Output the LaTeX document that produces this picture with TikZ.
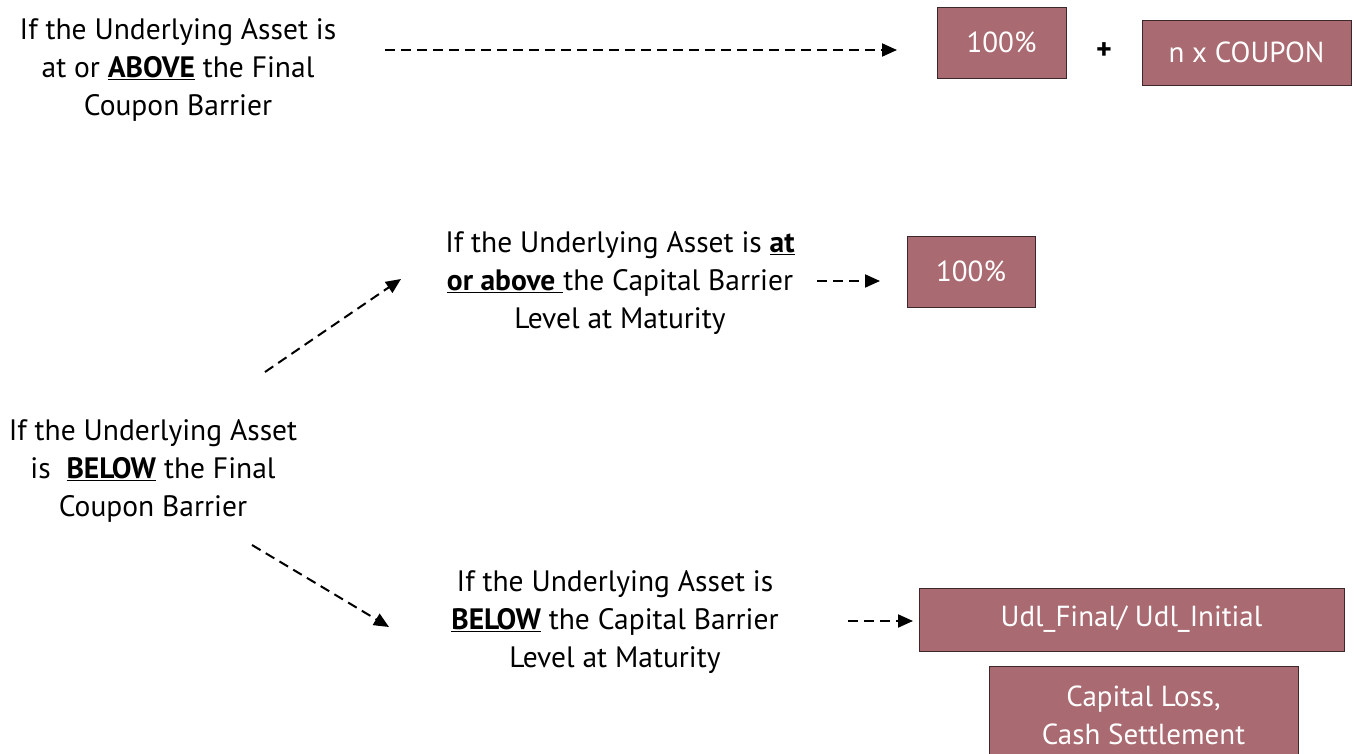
\documentclass[tikz,border=0pt]{standalone}
\usepackage{fontspec}
\setmainfont{PT Sans}
\usetikzlibrary{arrows.meta}
\definecolor{boxfill}{RGB}{170,106,113}
\definecolor{boxline}{RGB}{60,40,42}
\tikzset{
  lbl/.style={align=center, font=\fontsize{29.5}{38}\selectfont, inner sep=0pt, text=black},
  payoff/.style={draw=boxline, line width=0.9pt, fill=boxfill, text=white, font=\fontsize{29}{38}\selectfont, align=center, inner sep=0pt},
  dasharrow/.style={line width=2pt, dash pattern=on 10pt off 6pt, -{Triangle[length=15pt,width=13pt]}},
}
\begin{document}
\begin{tikzpicture}[x=1pt,y=-1pt]
\useasboundingbox (0,0) rectangle (1354,754);
% texts
\node[lbl] (t1) at (178,70) {If the Underlying Asset is\\at or \underline{\textbf{ABOVE}} the Final\\Coupon Barrier};
\node[lbl] (t2) at (620,283) {If the Underlying Asset is \underline{\textbf{at}}\\\underline{\textbf{or above}\ }the Capital Barrier\\Level at Maturity};
\node[lbl] (t3) at (153,471) {If the Underlying Asset\\is\ \ \underline{\textbf{BELOW}} the Final\\Coupon Barrier};
\node[lbl] (t4) at (615,622) {If the Underlying Asset is\\\underline{\textbf{BELOW}} the Capital Barrier\\Level at Maturity};
% boxes
\node[payoff, minimum width=129pt, minimum height=71pt] (b1) at (1001.5,42.5) {100\%};
\node[font=\fontsize{30}{30}\selectfont\bfseries] (plus) at (1104,51) {+};
\node[payoff, minimum width=209pt, minimum height=65pt] (b2) at (1246.5,52.5) {n x COUPON};
\node[payoff, minimum width=128pt, minimum height=71pt] (b3) at (971,271.5) {100\%};
\node[payoff, minimum width=425pt, minimum height=63pt] (b4) at (1131.5,619.5) {Udl\_Final/ Udl\_Initial};
\node[payoff, minimum width=309pt, minimum height=100pt] (b5) at (1143.5,716) {};
\node[text=white, font=\fontsize{29}{38}\selectfont, align=center, inner sep=0pt] (b5t) at (1143.5,715) {Capital Loss,\\Cash Settlement};
% arrow end points
\coordinate (a1s) at (385,50); \coordinate (a1e) at (897,50);
\coordinate (a2s) at (817,281); \coordinate (a2e) at (880,281);
\coordinate (a3s) at (265,372); \coordinate (a3e) at (401,279);
\coordinate (a4s) at (252,545); \coordinate (a4e) at (389,627);
\coordinate (a5s) at (848,621); \coordinate (a5e) at (913,621);
\draw[dasharrow] (a1s) -- (a1e);
\draw[dasharrow] (a2s) -- (a2e);
\draw[dasharrow] (a3s) -- (a3e);
\draw[dasharrow] (a4s) -- (a4e);
\draw[dasharrow] (a5s) -- (a5e);
\end{tikzpicture}
\end{document}
